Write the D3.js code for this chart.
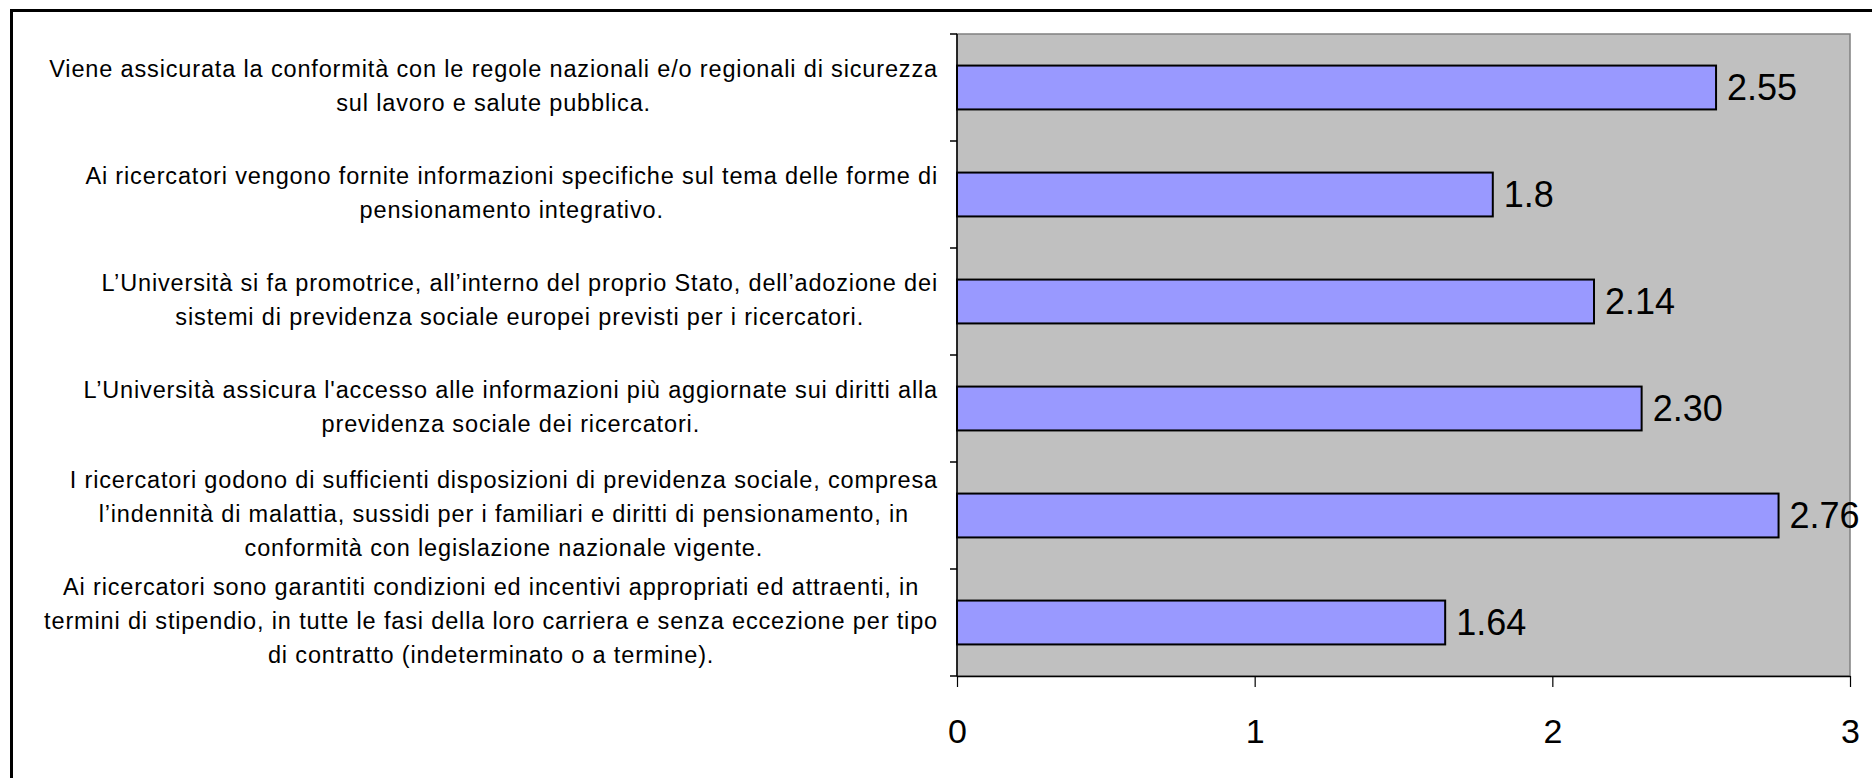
<!DOCTYPE html>
<html>
<head>
<meta charset="utf-8">
<script src="https://cdn.jsdelivr.net/npm/d3@7"></script>
<style>
  body { margin: 0; background: #fff; }
  svg { display: block; font-family: "Liberation Sans", Arial, sans-serif; }
</style>
</head>
<body>
<script>
// Category labels, already broken into lines as in the original chart (top to bottom)
const categoryLines = [
	["Viene assicurata la conformità con le regole nazionali e/o regionali di sicurezza",
	 "sul lavoro e salute pubblica."],
	["Ai ricercatori vengono fornite informazioni specifiche sul tema delle forme di",
	 "pensionamento integrativo."],
	["L’Università si fa promotrice, all’interno del proprio Stato, dell’adozione dei",
	 "sistemi di previdenza sociale europei previsti per i ricercatori."],
	["L’Università assicura l'accesso alle informazioni più aggiornate sui diritti alla",
	 "previdenza sociale dei ricercatori."],
	["I ricercatori godono di sufficienti disposizioni di previdenza sociale, compresa",
	 "l’indennità di malattia, sussidi per i familiari e diritti di pensionamento, in",
	 "conformità con legislazione nazionale vigente."],
	["Ai ricercatori sono garantiti condizioni ed incentivi appropriati ed attraenti, in",
	 "termini di stipendio, in tutte le fasi della loro carriera e senza eccezione per tipo",
	 "di contratto (indeterminato o a termine)."]
];
const values = [2.55, 1.8, 2.14, 2.30, 2.76, 1.64];
const valueLabels = ["2.55", "1.8", "2.14", "2.30", "2.76", "1.64"];
const xTicks = [0, 1, 2, 3];

const width = 1872;
const height = 778;
const plot = { left: 957, right: 1850, top: 34, bottom: 676 };

const svg = d3.select("body").append("svg")
	.attr("width", width)
	.attr("height", height);

// outer chart frame (only left and top visible in the crop)
svg.append("rect")
	.attr("x", 11.5).attr("y", 10.5)
	.attr("width", width + 20).attr("height", height + 20)
	.attr("fill", "none").attr("stroke", "#000").attr("stroke-width", 3);

const x = d3.scaleLinear().domain([0, 3]).range([plot.left, plot.right]);
const y = d3.scaleBand().domain(d3.range(values.length)).range([plot.top, plot.bottom]);
const barH = y.bandwidth() * 0.41;

// plot area
svg.append("rect")
	.attr("x", plot.left).attr("y", plot.top)
	.attr("width", plot.right - plot.left).attr("height", plot.bottom - plot.top)
	.attr("fill", "#c0c0c0").attr("stroke", "#808080").attr("stroke-width", 1.5);

// bars
svg.selectAll(".bar")
	.data(values)
	.enter().append("rect")
	.attr("class", "bar")
	.attr("x", x(0))
	.attr("y", (d, i) => y(i) + (y.bandwidth() - barH) / 2)
	.attr("width", (d) => x(d) - x(0))
	.attr("height", barH)
	.attr("fill", "#9999ff")
	.attr("stroke", "#000")
	.attr("stroke-width", 2);

// value labels
svg.selectAll(".val")
	.data(values)
	.enter().append("text")
	.attr("class", "val")
	.attr("x", (d) => x(d) + 11)
	.attr("y", (d, i) => y(i) + y.bandwidth() / 2 + 12)
	.attr("font-size", 36)
	.text((d, i) => valueLabels[i]);

// y axis: line + ticks at band boundaries
const yAxis = svg.append("g").attr("stroke", "#000").attr("stroke-width", 1.5);
yAxis.append("line")
	.attr("x1", plot.left).attr("x2", plot.left)
	.attr("y1", plot.top).attr("y2", plot.bottom);
const bounds = d3.range(values.length).map((i) => y(i)).concat([plot.bottom]);
yAxis.selectAll(".yt")
	.data(bounds)
	.enter().append("line")
	.attr("x1", plot.left - 7).attr("x2", plot.left)
	.attr("y1", (d) => d).attr("y2", (d) => d);

// x axis
const xAxis = svg.append("g")
	.attr("transform", "translate(0," + plot.bottom + ")")
	.call(d3.axisBottom(x).tickValues(xTicks).tickFormat(d3.format("d")).tickSize(11).tickSizeOuter(0));
xAxis.select(".domain").attr("stroke-width", 1.5);
xAxis.selectAll(".tick line").attr("stroke-width", 1.2);
xAxis.selectAll(".tick text")
	.attr("font-family", "Liberation Sans, Arial, sans-serif")
	.attr("font-size", 34)
	.attr("fill", "#000")
	.attr("dy", null)
	.attr("y", 67);

// category labels: lines centred inside a block whose right edge sits left of the axis
const lineH = 34;
const labelRight = 938;
categoryLines.forEach((lines, i) => {
	const cy = y(i) + y.bandwidth() / 2;
	const t = svg.append("text")
		.attr("font-size", 23.5)
		.attr("letter-spacing", 0.85)
		.attr("text-anchor", "middle");
	const spans = lines.map((s, k) => t.append("tspan")
		.attr("y", cy + (k - (lines.length - 1) / 2) * lineH + 6)
		.text(s));
	const maxW = d3.max(spans, (sp) => sp.node().getComputedTextLength());
	spans.forEach((sp) => sp.attr("x", labelRight - maxW / 2));
});
</script>
</body>
</html>
